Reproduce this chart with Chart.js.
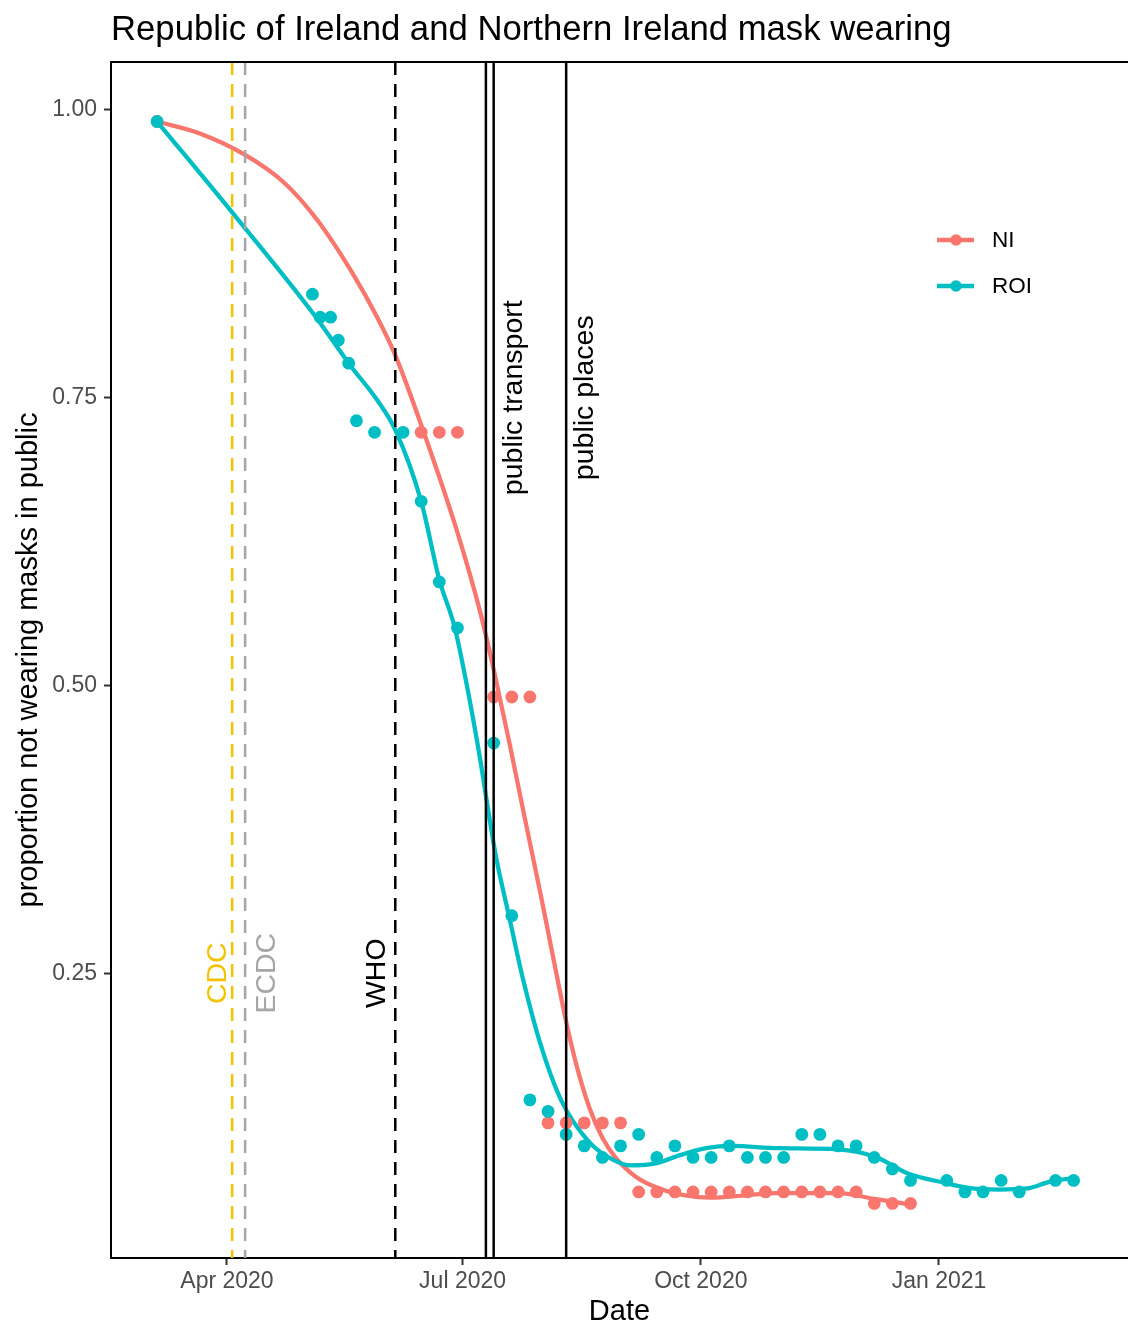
<!DOCTYPE html>
<html lang="en">
<head>
<meta charset="UTF-8">
<title>Republic of Ireland and Northern Ireland mask wearing</title>
<script src="https://cdn.jsdelivr.net/npm/chart.js"></script>
<style>
  body { margin: 0; background: #fff; }
  canvas { display: block; }
</style>
</head>
<body>
<canvas id="maskChart" width="1128" height="1326"></canvas>
<script>
// survey points
const roiDates = ['2020-03-05','2020-05-04','2020-05-07','2020-05-11','2020-05-14','2020-05-18','2020-05-21','2020-05-28',
  '2020-06-08','2020-06-15','2020-06-22','2020-06-29','2020-07-13','2020-07-20','2020-07-27','2020-08-03','2020-08-10',
  '2020-08-17','2020-08-24','2020-08-31','2020-09-07','2020-09-14','2020-09-21','2020-09-28','2020-10-05','2020-10-12',
  '2020-10-19','2020-10-26','2020-11-02','2020-11-09','2020-11-16','2020-11-23','2020-11-30','2020-12-07','2020-12-14',
  '2020-12-21','2021-01-04','2021-01-11','2021-01-18','2021-01-25','2021-02-01','2021-02-15','2021-02-22'];
const roiValues = [0.99,0.84,0.82,0.82,0.80,0.78,0.73,0.72,0.72,0.66,0.59,0.55,0.45,0.30,0.14,0.13,0.11,0.10,0.09,0.10,
  0.11,0.09,0.10,0.09,0.09,0.10,0.09,0.09,0.09,0.11,0.11,0.10,0.10,0.09,0.08,0.07,0.07,0.06,0.06,0.07,0.06,0.07,0.07];

const niDates = ['2020-03-05','2020-06-15','2020-06-22','2020-06-29','2020-07-13','2020-07-20','2020-07-27','2020-08-03',
  '2020-08-10','2020-08-17','2020-08-24','2020-08-31','2020-09-07','2020-09-14','2020-09-21','2020-09-28','2020-10-05',
  '2020-10-12','2020-10-19','2020-10-26','2020-11-02','2020-11-09','2020-11-16','2020-11-23','2020-11-30','2020-12-07',
  '2020-12-14','2020-12-21'];
const niValues = [0.99,0.72,0.72,0.72,0.49,0.49,0.49,0.12,0.12,0.12,0.12,0.12,0.06,0.06,0.06,0.06,0.06,0.06,0.06,0.06,
  0.06,0.06,0.06,0.06,0.06,0.05,0.05,0.05];

// smoothed trend lines
const niTrendDates = ['2020-03-05','2020-03-21','2020-04-08','2020-04-23','2020-05-06','2020-05-19','2020-05-29','2020-06-05',
  '2020-06-16','2020-06-29','2020-07-08','2020-07-13','2020-07-19','2020-07-25','2020-07-31','2020-08-04','2020-08-10',
  '2020-08-14','2020-08-19','2020-08-24','2020-08-29','2020-09-06','2020-09-15','2020-09-25','2020-10-05','2020-10-18',
  '2020-10-31','2020-11-23','2020-12-07','2020-12-21'];
const niTrendValues = [0.990,0.980,0.961,0.937,0.904,0.860,0.820,0.787,0.720,0.633,0.562,0.514,0.451,0.385,0.320,0.275,
  0.208,0.170,0.133,0.107,0.090,0.073,0.063,0.057,0.055,0.057,0.059,0.059,0.054,0.049];

const roiTrendDates = ['2020-03-05','2020-04-03','2020-05-04','2020-05-19','2020-05-29','2020-06-05','2020-06-15','2020-06-22',
  '2020-06-28','2020-07-03','2020-07-08','2020-07-11','2020-07-14','2020-07-19','2020-07-24','2020-07-31','2020-08-08',
  '2020-08-19','2020-08-28','2020-09-04','2020-09-14','2020-09-23','2020-10-03','2020-10-13','2020-10-31','2020-11-23',
  '2020-12-08','2020-12-20','2021-01-03','2021-01-14','2021-01-24','2021-02-04','2021-02-13','2021-02-22'];
const roiTrendValues = [0.990,0.911,0.824,0.777,0.748,0.722,0.660,0.592,0.550,0.496,0.433,0.390,0.350,0.299,0.248,0.189,
  0.140,0.103,0.088,0.083,0.085,0.092,0.098,0.100,0.098,0.097,0.090,0.076,0.068,0.063,0.062,0.063,0.069,0.072];

// guidance / mandate dates
const markerDates = ['2020-04-03','2020-04-08','2020-06-05','2020-07-10','2020-07-13','2020-08-10'];
const markerLabels = ['CDC','ECDC','WHO','','public transport','public places'];
const markerLabelAt = [0.25,0.25,0.25,null,0.75,0.75];

const xTickDates = ['2020-04-01','2020-07-01','2020-10-01','2021-01-01'];
const xTickLabels = ['Apr 2020','Jul 2020','Oct 2020','Jan 2021'];
const yTicks = [0.25,0.50,0.75,1.00];

const seriesNames = ['NI','ROI'];
const seriesColors = ['#F8766D','#00BFC4'];

// styling for the marker lines (not data)
const markerColors = ['#F3C300','#A6A6A6','#000000','#000000','#000000','#000000'];
const markerDashed = [true,true,true,false,false,false];
const markerTextShift = [-6,30,-10,0,28,27];

const FONT = "'Liberation Sans', Arial, Helvetica, sans-serif";
Chart.defaults.font.family = FONT;

const epoch = Date.UTC(2020, 0, 1);
function day(s) {
  return (Date.parse(s + 'T00:00:00Z') - epoch) / 86400000;
}
function pts(dates, vals) {
  return dates.map((d, i) => ({ x: day(d), y: vals[i] }));
}

const overlay = {
  id: 'overlay',
  afterDatasetsDraw(chart) {
    const { ctx, chartArea: a, scales: { x, y } } = chart;
    ctx.save();
    ctx.beginPath();
    ctx.rect(a.left, a.top, a.right - a.left, a.bottom - a.top);
    ctx.clip();
    markerDates.forEach((d, i) => {
      const px = x.getPixelForValue(day(d));
      ctx.strokeStyle = markerColors[i];
      ctx.lineWidth = 2.5;
      ctx.setLineDash(markerDashed[i] ? [13, 9] : []);
      ctx.beginPath();
      ctx.moveTo(px, a.top);
      ctx.lineTo(px, a.bottom);
      ctx.stroke();
    });
    ctx.setLineDash([]);
    ctx.font = '28.5px ' + FONT;
    ctx.textAlign = 'center';
    ctx.textBaseline = 'alphabetic';
    markerDates.forEach((d, i) => {
      if (!markerLabels[i]) return;
      const px = x.getPixelForValue(day(d)) + markerTextShift[i];
      const py = y.getPixelForValue(markerLabelAt[i]);
      ctx.save();
      ctx.translate(px, py);
      ctx.rotate(-Math.PI / 2);
      ctx.fillStyle = markerColors[i];
      ctx.fillText(markerLabels[i], 0, 0);
      ctx.restore();
    });
    ctx.restore();
  },
  afterDraw(chart) {
    const { ctx, chartArea: a } = chart;
    ctx.save();
    // top panel edge
    ctx.strokeStyle = '#000';
    ctx.lineWidth = 2;
    ctx.beginPath();
    ctx.moveTo(a.left, a.top);
    ctx.lineTo(a.right, a.top);
    ctx.stroke();
    // title
    ctx.fillStyle = '#000';
    ctx.font = '34.7px ' + FONT;
    ctx.textAlign = 'left';
    ctx.textBaseline = 'alphabetic';
    ctx.fillText('Republic of Ireland and Northern Ireland mask wearing', 111, 40);
    // legend
    ctx.font = '22.5px ' + FONT;
    ctx.textBaseline = 'middle';
    seriesNames.forEach((name, i) => {
      const ly = 240 + i * 46;
      ctx.strokeStyle = seriesColors[i];
      ctx.lineWidth = 4.3;
      ctx.beginPath();
      ctx.moveTo(937, ly);
      ctx.lineTo(974, ly);
      ctx.stroke();
      ctx.fillStyle = seriesColors[i];
      ctx.beginPath();
      ctx.arc(956, ly, 5.8, 0, Math.PI * 2);
      ctx.fill();
      ctx.fillStyle = '#000';
      ctx.fillText(name, 992, ly + 1);
    });
    ctx.restore();
  }
};

const tickFont = { size: 23 };
const ctx = document.getElementById('maskChart').getContext('2d');
new Chart(ctx, {
  type: 'scatter',
  data: {
    datasets: [
      {
        label: 'ROI points', data: pts(roiDates, roiValues), order: 0,
        backgroundColor: seriesColors[1], borderWidth: 0, pointRadius: 6.4, pointHoverRadius: 6.4
      },
      {
        label: 'NI points', data: pts(niDates, niValues), order: 1,
        backgroundColor: seriesColors[0], borderWidth: 0, pointRadius: 6.4, pointHoverRadius: 6.4
      },
      {
        label: 'ROI trend', data: pts(roiTrendDates, roiTrendValues), order: 2, showLine: true,
        borderColor: seriesColors[1], borderWidth: 4.3, pointRadius: 0, cubicInterpolationMode: 'monotone'
      },
      {
        label: 'NI trend', data: pts(niTrendDates, niTrendValues), order: 3, showLine: true,
        borderColor: seriesColors[0], borderWidth: 4.3, pointRadius: 0, cubicInterpolationMode: 'monotone'
      }
    ]
  },
  options: {
    responsive: false,
    animation: false,
    layout: { autoPadding: false, padding: { top: 62, right: 0, left: 0, bottom: 0 } },
    plugins: { legend: { display: false }, tooltip: { enabled: false } },
    scales: {
      x: {
        type: 'linear',
        min: 46.2,
        max: 439,
        afterBuildTicks: s => { s.ticks = xTickDates.map(d => ({ value: day(d) })); },
        afterFit: s => { s.height = 68; s.paddingLeft = 0; s.paddingRight = 0; },
        ticks: {
          callback: (v, i) => xTickLabels[i],
          font: tickFont, color: '#4D4D4D', padding: 3, maxRotation: 0, autoSkip: false
        },
        grid: { drawOnChartArea: false, tickLength: 7, tickColor: '#333333', tickWidth: 2 },
        border: { color: '#000', width: 2 },
        title: { display: true, text: 'Date', color: '#000', font: { size: 29, lineHeight: 1 }, padding: 0 }
      },
      y: {
        min: 0.0026,
        max: 1.0417,
        afterBuildTicks: s => { s.ticks = yTicks.map(v => ({ value: v })); },
        afterFit: s => { s.width = 111; s.paddingTop = 0; s.paddingBottom = 0; },
        ticks: {
          callback: v => v.toFixed(2),
          font: tickFont, color: '#4D4D4D', padding: 7
        },
        grid: { drawOnChartArea: false, tickLength: 7, tickColor: '#333333', tickWidth: 2 },
        border: { color: '#000', width: 2 },
        title: {
          display: true, text: 'proportion not wearing masks in public', color: '#000',
          font: { size: 29, lineHeight: 1.2 }, padding: { top: 12, bottom: 0 }
        }
      }
    }
  },
  plugins: [overlay]
});
</script>
</body>
</html>
